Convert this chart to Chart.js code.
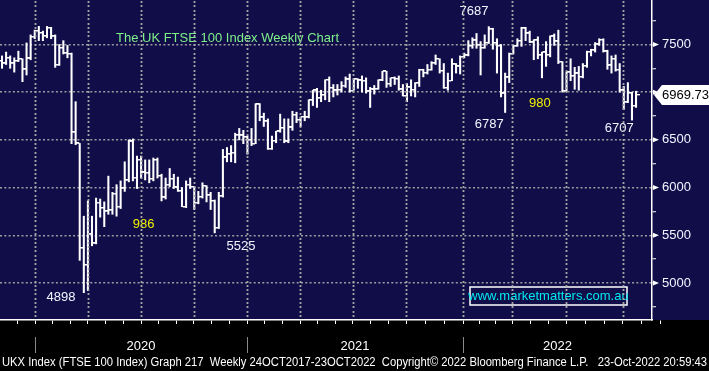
<!DOCTYPE html>
<html><head><meta charset="utf-8">
<script src="https://cdn.jsdelivr.net/npm/chart.js@4.4.0/dist/chart.umd.min.js"></script>
<style>html,body{margin:0;padding:0;background:#000;}canvas{display:block}</style>
</head><body>
<canvas id="c" width="709" height="371"></canvas>
<script>
// Weekly OHLC bars, week ending Fri 1-Nov-2019 ... Fri 21-Oct-2022 (x = week number)
const opens = [7324,7302,7359,7303,7327,7347,7240,7353,7582,7645,
7622,7588,7675,7586,7286,7466,7409,7404,6581,6463,
5366,5191,5510,5416,5843,5787,5752,5763,5936,5800,
5993,6077,6484,6105,6293,6159,6157,6095,6290,6123,
5898,6032,6090,6002,5964,5799,6032,6007,5843,5902,
6016,5920,5860,5577,5910,6316,6351,6367,6550,6547,
6529,6502,6460,6873,6736,6695,6407,6489,6589,6624,
6483,6630,6761,6709,6741,6737,6916,7019,6938,6970,
7130,7044,7018,7023,7069,7134,7017,7136,7123,7122,
7008,7028,7032,7123,7218,7088,7148,7138,7029,6963,
7051,7027,7095,7234,7204,7237,7304,7348,7224,7044,
7122,7292,7270,7373,7385,7485,7543,7494,7466,7516,
7661,7514,7489,6987,7156,7405,7483,7538,7670,7616,
7522,7545,7388,7418,7390,7585,7533,7318,7016,7209,
7169,7196,7159,7276,7423,7440,7501,7550,7427,7281,
7351,7237,7019,6894,6991,6858];
const highs = [7380,7420,7380,7360,7430,7350,7516,7600,7650,7690,
7640,7689,7680,7600,7500,7540,7490,7410,6900,6463,
5700,5860,5700,5890,5880,5850,6120,5950,6030,6070,
6270,6500,6510,6330,6330,6290,6290,6310,6310,6140,
6100,6200,6140,6110,6000,6070,6100,6010,5960,6050,
6020,5950,5870,5950,6400,6420,6440,6570,6620,6600,
6540,6620,6880,6880,6780,6720,6540,6590,6770,6720,
6720,6800,6790,6740,6800,6920,7020,7040,7020,7130,
7160,7080,7080,7110,7160,7190,7140,7140,7170,7150,
7050,7070,7130,7220,7220,7150,7160,7170,7080,7090,
7130,7100,7240,7240,7290,7320,7390,7350,7300,7200,
7350,7300,7380,7410,7540,7570,7615,7530,7600,7687,
7670,7560,7500,7200,7410,7490,7560,7680,7680,7640,
7550,7580,7420,7530,7590,7610,7650,7320,7210,7350,
7260,7270,7300,7430,7450,7520,7560,7560,7440,7380,
7390,7300,7060,7100,7000,7010];
const lows = [7250,7290,7250,7210,7320,7110,7180,7340,7560,7540,
7540,7570,7560,7260,7280,7400,7360,6460,6450,5237,
4898,4920,5390,5410,5690,5590,5720,5720,5700,5780,
5960,6060,6070,5990,6100,6080,6050,6070,6100,5860,
5880,6010,5990,5960,5800,5790,5990,5770,5830,5890,
5850,5770,5525,5570,5900,6270,6270,6260,6500,6460,
6350,6440,6460,6700,6640,6400,6400,6470,6580,6470,
6470,6600,6680,6640,6700,6730,6860,6840,6900,6920,
6900,6950,6970,7000,7050,7000,7020,7040,7000,6990,
6840,6980,7030,7120,7050,7060,7080,7020,6960,6900,
6960,6950,7060,7160,7190,7230,7290,7200,7040,7020,
7120,7200,7190,7360,7380,7460,7460,7180,7460,7510,
7450,7200,6950,6787,7100,7400,7480,7480,7540,7520,
7340,7350,7150,7270,7370,7490,7300,7000,7010,7120,
7030,7020,7150,7260,7380,7420,7490,7420,7240,7200,
7220,7000,6820,6890,6707,6840];
const closes = [7302,7359,7303,7327,7347,7240,7353,7582,7645,7622,
7588,7675,7586,7286,7466,7409,7404,6581,6463,5366,
5191,5510,5416,5843,5787,5752,5763,5936,5800,5993,
6077,6484,6105,6293,6159,6157,6095,6290,6123,5898,
6032,6090,6002,5964,5799,6032,6007,5843,5902,6016,
5920,5860,5577,5910,6316,6351,6367,6550,6547,6529,
6502,6460,6873,6736,6695,6407,6489,6589,6624,6483,
6630,6761,6709,6741,6737,6916,7019,6938,6970,7130,
7044,7018,7023,7069,7134,7017,7136,7123,7122,7008,
7028,7032,7123,7218,7088,7148,7138,7029,6963,7051,
7027,7095,7234,7204,7237,7304,7348,7224,7044,7122,
7292,7270,7373,7385,7485,7543,7494,7466,7516,7661,
7514,7489,6987,7156,7405,7483,7538,7670,7616,7522,
7545,7388,7418,7390,7585,7533,7318,7016,7209,7169,
7196,7159,7276,7423,7440,7501,7550,7427,7281,7351,
7237,7019,6894,6991,6858,6969.73];

// Axis ticks (week-number units for x, index points for y)
const yearLabels = ['2020','2021','2022'];
const yearStarts = [8.07, 59.9, 112.7];
const quarterStarts = [8.07, 21.0, 34.0, 46.9, 59.9, 72.9, 85.8, 98.8, 112.7, 124.7, 137.9, 151.8];
const priceTicks = [5000, 5500, 6000, 6500, 7000, 7500];

// Annotations: [text, week, price, colour]
const notes = [
  ['7687', 115.4, 7851, 'w'], ['6787', 119.1, 6667, 'w'], ['980', 131.5, 6887, 'y'],
  ['6707', 150.9, 6625, 'w'], ['986', 34.6, 5618, 'y'], ['5525', 58.4, 5388, 'w'],
  ['4898', 14.4, 4853, 'w']
];
const titleText = 'The UK FTSE 100 Index Weekly Chart';
const footerText = 'UKX Index (FTSE 100 Index) Graph 217  Weekly 24OCT2017-23OCT2022  Copyright\u00A9 2022 Bloomberg Finance L.P.   23-Oct-2022 20:59:43';
const siteText = 'www.marketmatters.com.au';

const NAVY = '#100d48';
const GRID = 'rgba(165,165,165,0.95)';
const FONT = "'Liberation Sans', Arial, sans-serif";

// monthly tick marks: thirds between quarter lines
const monthTicks = [];
{
  const q = quarterStarts;
  const s0 = (q[1]-q[0])/3;
  monthTicks.push(q[0]-2*s0, q[0]-s0);
  for (let i=0;i<q.length;i++){
    const n = i<q.length-1 ? q[i+1] : q[i]+(q[i]-q[i-1]);
    const st = (n-q[i])/3;
    monthTicks.push(q[i], q[i]+st, q[i]+2*st);
  }
}

function tickImg(side){
  const c = document.createElement('canvas');
  c.width = 7; c.height = 2;
  const g = c.getContext('2d');
  g.fillStyle = '#fff';
  g.fillRect(side < 0 ? 0 : 4, 0, 3, 1);
  g.fillStyle = 'rgba(255,255,255,0.3)';
  g.fillRect(side < 0 ? 0 : 4, 1, 3, 1);
  return c;
}

const idx = closes.map((_, i) => i);

function drawQuarterLines(chart){
  const {ctx, chartArea:a, scales:{x}} = chart;
  ctx.save();
  ctx.fillStyle = GRID;
  quarterStarts.forEach(v => {
    const px = Math.round(x.getPixelForValue(v));
    for (let yy = a.top + 1; yy < a.bottom - 1; yy += 4.3) {
      ctx.fillRect(px - 0.25, Math.round(yy), 1.5, 2);
    }
  });
  ctx.restore();
}

const deco = {
  id: 'deco',
  beforeDraw(chart){
    const {ctx, chartArea:a, width, height} = chart;
    ctx.save();
    ctx.fillStyle = '#000'; ctx.fillRect(0,0,width,height);
    ctx.fillStyle = NAVY; ctx.fillRect(0,0,width,a.bottom);
    ctx.restore();
  },
  beforeDatasetsDraw(chart){ drawQuarterLines(chart); },
  afterDraw(chart){
    const {ctx, chartArea:a, scales:{x, y}, width} = chart;
    ctx.save();
    // y-axis arrow markers
    ctx.fillStyle = '#fff';
    priceTicks.forEach(v => {
      const py = y.getPixelForValue(v);
      ctx.beginPath(); ctx.moveTo(a.right+1, py-2.5); ctx.lineTo(a.right+7, py); ctx.lineTo(a.right+1, py+2.5); ctx.closePath(); ctx.fill();
    });
    // year separators and labels
    ctx.strokeStyle = '#8a8a8a'; ctx.lineWidth = 1;
    yearStarts.forEach(v => {
      const px = Math.round(x.getPixelForValue(v)) + 0.5;
      ctx.beginPath(); ctx.moveTo(px, a.bottom+17); ctx.lineTo(px, a.bottom+33); ctx.stroke();
    });
    ctx.font = '13px ' + FONT; ctx.fillStyle = '#fff'; ctx.textAlign = 'center'; ctx.textBaseline = 'middle';
    yearLabels.forEach((t, i) => {
      const x0 = x.getPixelForValue(yearStarts[i]);
      const x1 = i < yearStarts.length-1 ? x.getPixelForValue(yearStarts[i+1]) : a.right;
      ctx.fillText(t, (x0+x1)/2, a.bottom+26);
    });
    // footer
    ctx.textAlign = 'left';
    ctx.font = '12px ' + FONT;
    ctx.fillText(footerText, 2, a.bottom+43, width-4);
    // chart title
    ctx.fillStyle = '#7ef08a';
    ctx.font = '13px ' + FONT;
    ctx.fillText(titleText, 116, 38);
    // annotations
    ctx.textAlign = 'center';
    notes.forEach(([t, wi, pv, c]) => {
      ctx.fillStyle = c === 'y' ? '#f0f000' : '#f4f4ff';
      ctx.fillText(t, x.getPixelForValue(wi), y.getPixelForValue(pv));
    });
    // site box
    const bx = a.right - 182, by = a.bottom - 33, bw = 157, bh = 18;
    ctx.strokeStyle = '#fff'; ctx.lineWidth = 1.5;
    ctx.strokeRect(bx, by, bw, bh);
    ctx.fillStyle = '#00e8f0';
    ctx.fillText(siteText, bx + bw/2, by + bh/2 + 0.5);
    // last price label
    const last = closes[closes.length-1];
    const py = y.getPixelForValue(last);
    ctx.fillStyle = '#fff';
    ctx.beginPath();
    ctx.moveTo(a.right+2, py); ctx.lineTo(a.right+10, py-10); ctx.lineTo(width, py-10);
    ctx.lineTo(width, py+10); ctx.lineTo(a.right+10, py+10); ctx.closePath(); ctx.fill();
    ctx.fillStyle = '#000'; ctx.textAlign = 'left';
    ctx.fillText(last.toFixed(2), a.right+10, py+0.5);
    ctx.restore();
    // quarter grid lines again as the last step, so nothing can hide them
    drawQuarterLines(chart);
  }
};

new Chart(document.getElementById('c'), {
  type: 'bar',
  data: {
    datasets: [
      { type:'bar', data: idx.map(i => ({x:i, y:[lows[i], highs[i]]})), backgroundColor:'#fff', barThickness:1.4, borderWidth:0 },
      { type:'scatter', data: idx.map(i => ({x:i, y:opens[i]})), pointStyle: tickImg(-1), radius:3 },
      { type:'scatter', data: idx.map(i => ({x:i, y:closes[i]})), pointStyle: tickImg(1), radius:3 }
    ]
  },
  options: {
    responsive:false, animation:false, devicePixelRatio:1,
    layout:{padding:0, autoPadding:false},
    plugins:{legend:{display:false}, tooltip:{enabled:false}, title:{display:false}},
    scales:{
      x:{ type:'linear', min:-0.49, max:158.9, offset:false,
        afterBuildTicks: s => { s.ticks = monthTicks.map(v => ({value:v})); },
        afterFit: s => { s.height = 51; s.paddingLeft = 0; s.paddingRight = 0; },
        grid:{ drawOnChartArea:false, drawTicks:true, tickLength:4, tickColor:'#fff', tickWidth:1, offset:false, color:'#fff' },
        border:{ display:true, color:'#fff', width:1.5 },
        ticks:{ display:false, autoSkip:false }
      },
      y:{ type:'linear', position:'right', min:4612, max:7966,
        afterFit: s => { s.width = 57; s.paddingTop = 0; s.paddingBottom = 0; },
        grid:{ color: c => (c.tick && priceTicks.includes(c.tick.value)) ? GRID : 'rgba(0,0,0,0)', lineWidth:1.5,
               drawTicks:true, tickLength:4, tickColor:'#fff', tickWidth:1 },
        border:{ display:true, color:'#fff', width:1.5, dash:[2,2.3] },
        ticks:{ stepSize:250, includeBounds:false, autoSkip:false, color:'#f4f4ff', font:{family:FONT, size:13}, padding:6,
                callback: v => priceTicks.includes(v) ? String(v) : '' }
      }
    }
  },
  plugins:[deco]
});
</script>
</body></html>
